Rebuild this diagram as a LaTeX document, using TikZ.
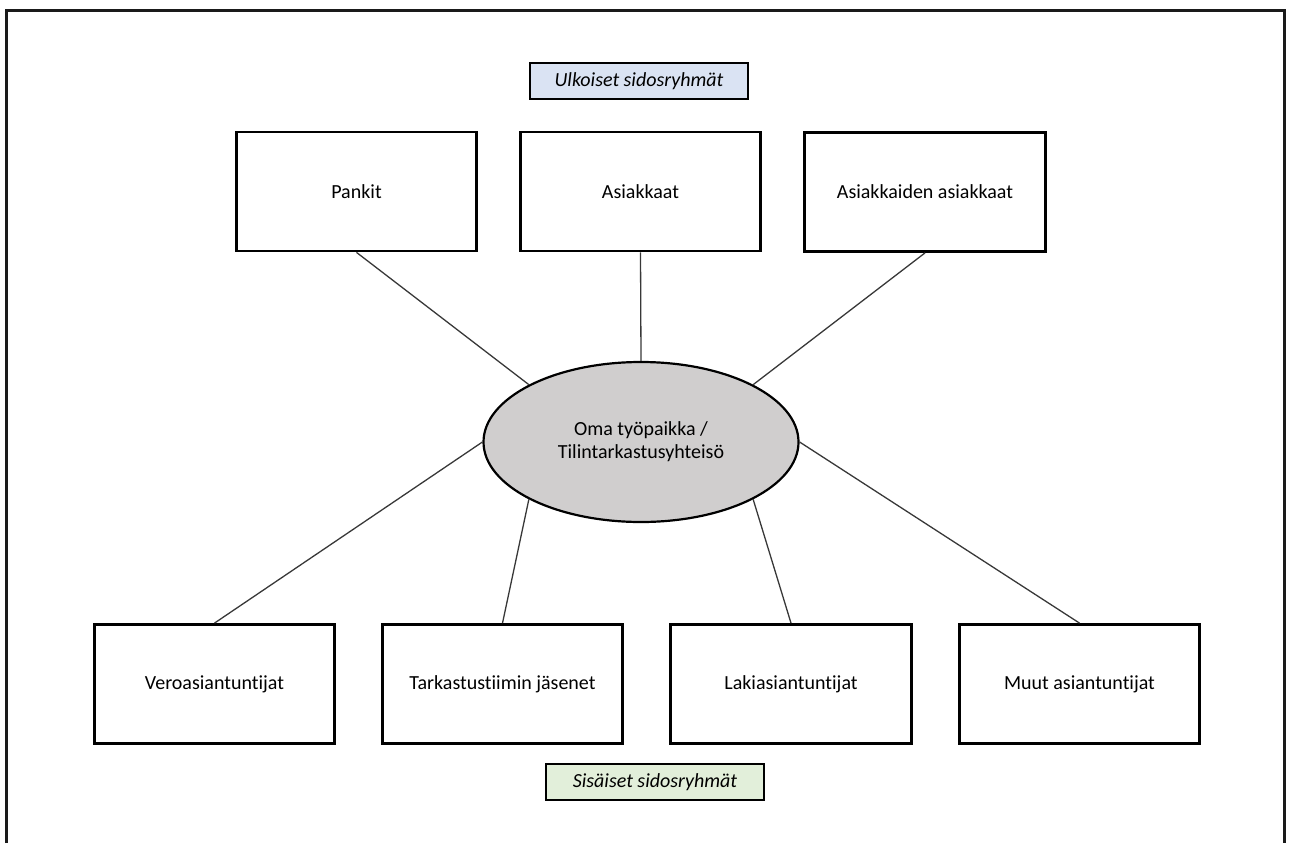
\documentclass[tikz,border=0pt]{standalone}
\usepackage{fontspec}
\setmainfont[Ligatures=NoCommon]{Carlito}
\usetikzlibrary{shapes.geometric}
\definecolor{hubgray}{HTML}{D0CECE}
\definecolor{tagblue}{HTML}{DAE3F3}
\definecolor{taggreen}{HTML}{E2EFDA}
\definecolor{linkgray}{HTML}{383838}
\definecolor{framegray}{HTML}{1A1A1A}
\begin{document}
\begin{tikzpicture}[x=1pt,y=-1pt,
  box/.style={draw=black, line width=2.8pt, minimum width=240.5pt, minimum height=119pt,
    inner sep=0pt, fill=white, font=\fontsize{20}{24}\selectfont},
  tag/.style={draw=black, line width=2.4pt, minimum width=218pt, minimum height=35.5pt,
    inner sep=0pt, font=\fontsize{20}{24}\selectfont\itshape},
  hub/.style={ellipse, draw=black, line width=2.2pt, fill=hubgray, minimum width=315pt,
    minimum height=160pt, inner sep=0pt, align=center, font=\fontsize{20}{23}\selectfont},
  link/.style={draw=linkgray, line width=1.3pt}
]
\useasboundingbox (0,0) rectangle (1289,843);
% outer frame (open at the bottom)
\coordinate (fbl) at (6.5,843);
\coordinate (ftl) at (6.5,10.5);
\coordinate (ftr) at (1284.5,10.5);
\coordinate (fbr) at (1284.5,843);
\draw[framegray, line width=3pt] (fbl) -- (ftl) -- (ftr) -- (fbr);

\node[tag, fill=tagblue] (ulk) at (639,81) {Ulkoiset sidosryhmät};
\node[tag, fill=taggreen] (sis) at (655,782) {Sisäiset sidosryhmät};

\node[box] (pankit) at (356.5,191.5) {Pankit};
\node[box] (asiak) at (640.5,191.5) {Asiakkaat};
\node[box] (asas) at (925,192) {Asiakkaiden asiakkaat};

\node[box] (vero) at (214.5,684) {Veroasiantuntijat};
\node[box] (tark) at (502.5,684) {Tarkastustiimin jäsenet};
\node[box] (laki) at (791,684) {Lakiasiantuntijat};
\node[box] (muut) at (1079.5,684) {Muut asiantuntijat};

\node[hub] (hub) at (641,442) {Oma työpaikka /\\Tilintarkastusyhteisö};

\draw[link] (pankit.south) -- (hub.north west);
\draw[link] (asiak.south) -- (hub.north);
\draw[link] (asas.south) -- (hub.north east);
\draw[link] (vero.north) -- (hub.west);
\draw[link] (tark.north) -- (hub.south west);
\draw[link] (laki.north) -- (hub.south east);
\draw[link] (muut.north) -- (hub.east);
\end{tikzpicture}
\end{document}
